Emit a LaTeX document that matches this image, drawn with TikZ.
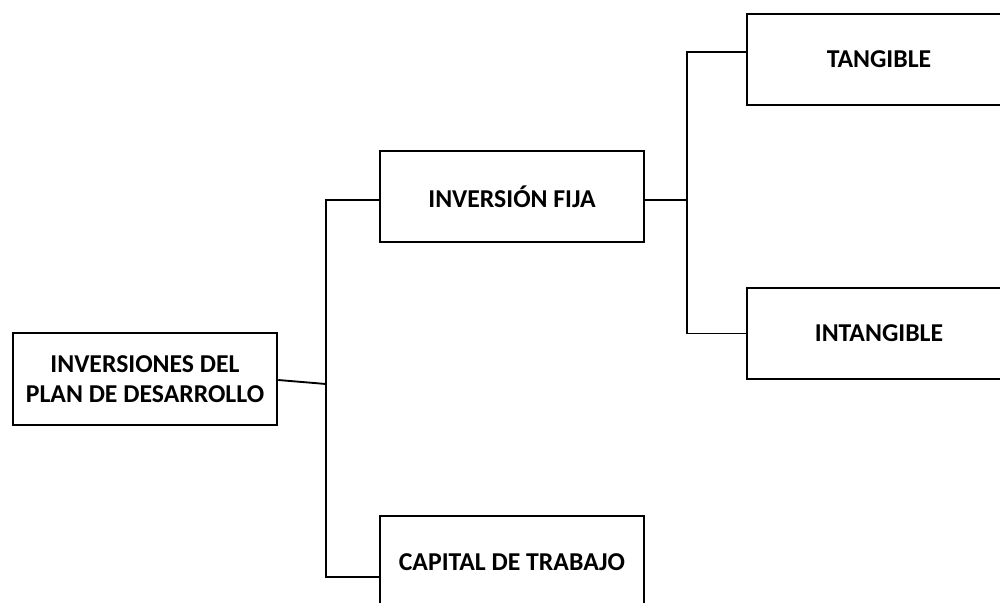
\documentclass[tikz,border=0pt]{standalone}
\usepackage{fontspec}
\setmainfont{Carlito}
\begin{document}
\begin{tikzpicture}[x=0.75pt,y=-0.75pt,line width=1.4pt,
  box/.style={draw,align=center,inner sep=0pt,minimum width=198.5pt,minimum height=68.5pt,
    font=\bfseries\fontsize{19.3}{22.5}\selectfont}]
  \useasboundingbox (0,0) rectangle (1000,603);
  % boxes
  \node[box] (root) at (145,379) {INVERSIONES DEL\\PLAN DE DESARROLLO};
  \node[box] (fija) at (512,196.5) {INVERSIÓN FIJA};
  \node[box] (capital) at (512,562) {CAPITAL DE TRABAJO};
  \node[box] (tangible) at (879,59.5) {TANGIBLE};
  \node[box] (intangible) at (879,333.5) {INTANGIBLE};
  % connectors
  \draw (root.east) ++(0,1) -- (326,384);
  \draw (fija.west) ++(0,3.5) -| (326,577) -- (capital.west |- 0,577);
  \draw (fija.east) ++(0,3.5) -- (687,200);
  \draw (tangible.west) ++(0,-7.5) -| (intangible.west -| 687,0) -- (intangible.west);
\end{tikzpicture}
\end{document}
